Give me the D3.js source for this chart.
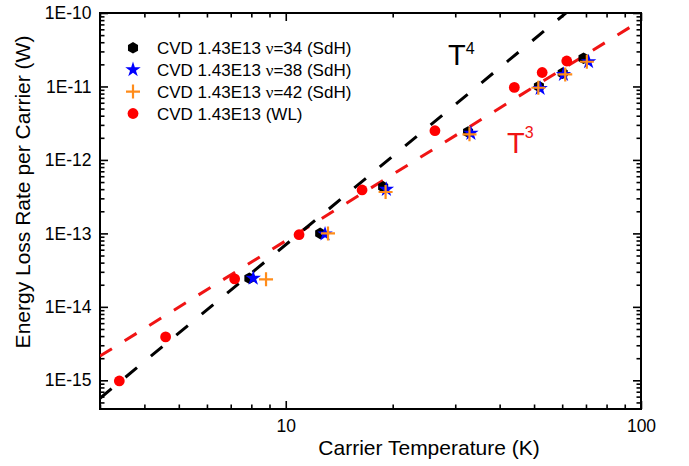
<!DOCTYPE html>
<html>
<head>
<meta charset="utf-8">
<script src="https://cdn.jsdelivr.net/npm/d3@7"></script>
<style>
  body { margin: 0; background: #fff; }
  svg { display: block; font-family: Arial, "Liberation Sans", sans-serif; }
</style>
</head>
<body>
<svg id="chart" width="689" height="466"></svg>
<script>
// data (temperature in K, power in W)
let sdh34T = [7.9, 12.5, 18.8, 32.6, 51.6, 60.2, 68.9]
let sdh34P = [2.45e-14, 1.0e-13, 4.3e-13, 2.4e-12, 1.0e-11, 1.52e-11, 2.42e-11]

let sdh38T = [8.1, 12.9, 19.2, 33.2, 52.0, 60.5, 71.2]
let sdh38P = [2.45e-14, 9.8e-14, 3.98e-13, 2.3e-12, 9.4e-12, 1.46e-11, 2.17e-11]

let sdh42T = [8.8, 13.15, 19.1, 32.9, 51.4, 61.2, 70.4]
let sdh42P = [2.37e-14, 1.0e-13, 3.66e-13, 2.23e-12, 9.6e-12, 1.46e-11, 2.17e-11]

let wlT = [3.40, 4.59, 7.18, 10.9, 16.4, 26.3, 44.0, 52.7, 61.8]
let wlP = [9.8e-16, 3.9e-15, 2.4e-14, 9.6e-14, 3.9e-13, 2.5e-12, 9.7e-12, 1.55e-11, 2.22e-11]

// guide lines, end points at T = 3 and T = 100
let t4LineT = [3, 100]
let t4LineP = [5.7e-16, 7.0e-10]
let t3LineT = [3, 100]
let t3LineP = [2.14e-15, 7.93e-11]

let xMajor = [10, 100]
let yMajor = [1e-15, 1e-14, 1e-13, 1e-12, 1e-11, 1e-10]

let legendLabels = [
    ['CVD 1.43E13 ', 'ν', '=34 (SdH)'],
    ['CVD 1.43E13 ', 'ν', '=38 (SdH)'],
    ['CVD 1.43E13 ', 'ν', '=42 (SdH)'],
    ['CVD 1.43E13 (WL)', '', '']
]

let padL = 100, padR = 641, padT = 13, padB = 409
let orange = '#ff8c1a'

let svg = d3.select('#chart')

let xScale = d3.scaleLog().domain([3, 100]).range([padL, padR])
let yScale = d3.scaleLog().domain([4.07e-16, 1e-10]).range([padB, padT])

let xMinor = xScale.ticks().filter(d => !xMajor.includes(d))
let yMinor = yScale.ticks().filter(d => !yMajor.some(m => Math.abs(m - d) / m < 1e-6))

let fmtY = d => '1E' + Math.round(Math.log10(d))

// axes, ticks pointing inward
let addAxis = (axis, tr) => {
    let g = svg.append('g').attr('transform', tr).call(axis)
    g.select('.domain').remove()
    g.selectAll('line').attr('stroke', '#000').attr('stroke-width', 1.6)
    g.selectAll('text').attr('font-size', 17.5).attr('fill', '#000')
        .attr('font-family', 'Arial, "Liberation Sans", sans-serif')
    return g
}

addAxis(d3.axisBottom(xScale).tickValues(xMajor).tickSize(-8).tickPadding(10.5).tickFormat(d3.format('d')), `translate(0,${padB})`)
addAxis(d3.axisBottom(xScale).tickValues(xMinor).tickSize(-4.5).tickFormat(''), `translate(0,${padB})`)
addAxis(d3.axisTop(xScale).tickValues(xMajor).tickSize(-8).tickFormat(''), `translate(0,${padT})`)
addAxis(d3.axisTop(xScale).tickValues(xMinor).tickSize(-4.5).tickFormat(''), `translate(0,${padT})`)

addAxis(d3.axisLeft(yScale).tickValues(yMajor).tickSize(-8).tickPadding(8.5).tickFormat(fmtY), `translate(${padL},0)`)
addAxis(d3.axisLeft(yScale).tickValues(yMinor).tickSize(-4.5).tickFormat(''), `translate(${padL},0)`)
addAxis(d3.axisRight(yScale).tickValues(yMajor).tickSize(-8).tickFormat(''), `translate(${padR},0)`)
addAxis(d3.axisRight(yScale).tickValues(yMinor).tickSize(-4.5).tickFormat(''), `translate(${padR},0)`)

// frame
svg.append('rect')
    .attr('x', padL).attr('y', padT)
    .attr('width', padR - padL).attr('height', padB - padT)
    .attr('fill', 'none').attr('stroke', '#000').attr('stroke-width', 2)

// clip for the guide lines
svg.append('defs').append('clipPath').attr('id', 'plotClip')
    .append('rect').attr('x', padL).attr('y', padT)
    .attr('width', padR - padL).attr('height', padB - padT)

let line = d3.line().x(d => xScale(d[0])).y(d => yScale(d[1]))

svg.append('path')
    .datum(d3.zip(t3LineT, t3LineP))
    .attr('d', line)
    .attr('clip-path', 'url(#plotClip)')
    .attr('fill', 'none').attr('stroke', '#f01414').attr('stroke-width', 3)
    .attr('stroke-dasharray', '14,15')

svg.append('path')
    .datum(d3.zip(t4LineT, t4LineP))
    .attr('d', line)
    .attr('clip-path', 'url(#plotClip)')
    .attr('fill', 'none').attr('stroke', '#000').attr('stroke-width', 3)
    .attr('stroke-dasharray', '15,18')

// markers
let hexPath = r => {
    let pts = d3.range(6).map(i => {
        let a = Math.PI / 3 * i - Math.PI / 2
        return [r * Math.cos(a), r * Math.sin(a)]
    })
    return 'M' + pts.map(p => p.join(',')).join('L') + 'Z'
}
let starPath = d3.symbol().type(d3.symbolStar).size(74)()
let plusPath = 'M-7,0H7M0,-7V7'

let drawHex = (g, x, y) => g.append('path').attr('d', hexPath(5.8))
    .attr('transform', `translate(${x},${y})`).attr('fill', '#000')
let drawStar = (g, x, y) => g.append('path').attr('d', starPath)
    .attr('transform', `translate(${x},${y})`).attr('fill', '#0000ff')
let drawPlus = (g, x, y) => g.append('path').attr('d', plusPath)
    .attr('transform', `translate(${x},${y})`).attr('fill', 'none')
    .attr('stroke', orange).attr('stroke-width', 2.2)
let drawDot = (g, x, y) => g.append('circle').attr('cx', x).attr('cy', y).attr('r', 5.4)
    .attr('fill', '#ff0000')

let marks = svg.append('g')
d3.zip(sdh34T, sdh34P).forEach(d => drawHex(marks, xScale(d[0]), yScale(d[1])))
d3.zip(sdh38T, sdh38P).forEach(d => drawStar(marks, xScale(d[0]), yScale(d[1])))
d3.zip(sdh42T, sdh42P).forEach(d => drawPlus(marks, xScale(d[0]), yScale(d[1])))
d3.zip(wlT, wlP).forEach(d => drawDot(marks, xScale(d[0]), yScale(d[1])))

// legend
let legend = svg.append('g')
let legendDraw = [drawHex, drawStar, drawPlus, drawDot]
legendLabels.forEach((lab, i) => {
    let y = 47.8 + i * 21.9
    legendDraw[i](legend, 133, y)
    let t = legend.append('text').attr('x', 157).attr('y', y + 6.2)
        .attr('font-size', 17).attr('fill', '#000')
    t.append('tspan').text(lab[0])
    if (lab[1]) {
        t.append('tspan').text(lab[1]).attr('font-family', '"Liberation Serif", "DejaVu Serif", serif')
        t.append('tspan').text(lab[2])
    }
})

// T^4 and T^3 labels
let t4 = svg.append('text').attr('x', 448).attr('y', 65).attr('font-size', 29).attr('fill', '#000')
t4.append('tspan').text('T')
t4.append('tspan').text('4').attr('font-size', 16).attr('dy', -11.5)

let t3 = svg.append('text').attr('x', 507).attr('y', 153).attr('font-size', 29).attr('fill', '#f01414')
t3.append('tspan').text('T')
t3.append('tspan').text('3').attr('font-size', 16).attr('dy', -15.5)

// axis titles
svg.append('text')
    .attr('x', 429).attr('y', 455)
    .attr('text-anchor', 'middle')
    .attr('font-size', 21).attr('fill', '#000')
    .text('Carrier Temperature (K)')

svg.append('text')
    .attr('transform', 'translate(30,192) rotate(-90)')
    .attr('text-anchor', 'middle')
    .attr('font-size', 21).attr('fill', '#000')
    .text('Energy Loss Rate per Carrier (W)')
</script>
</body>
</html>
